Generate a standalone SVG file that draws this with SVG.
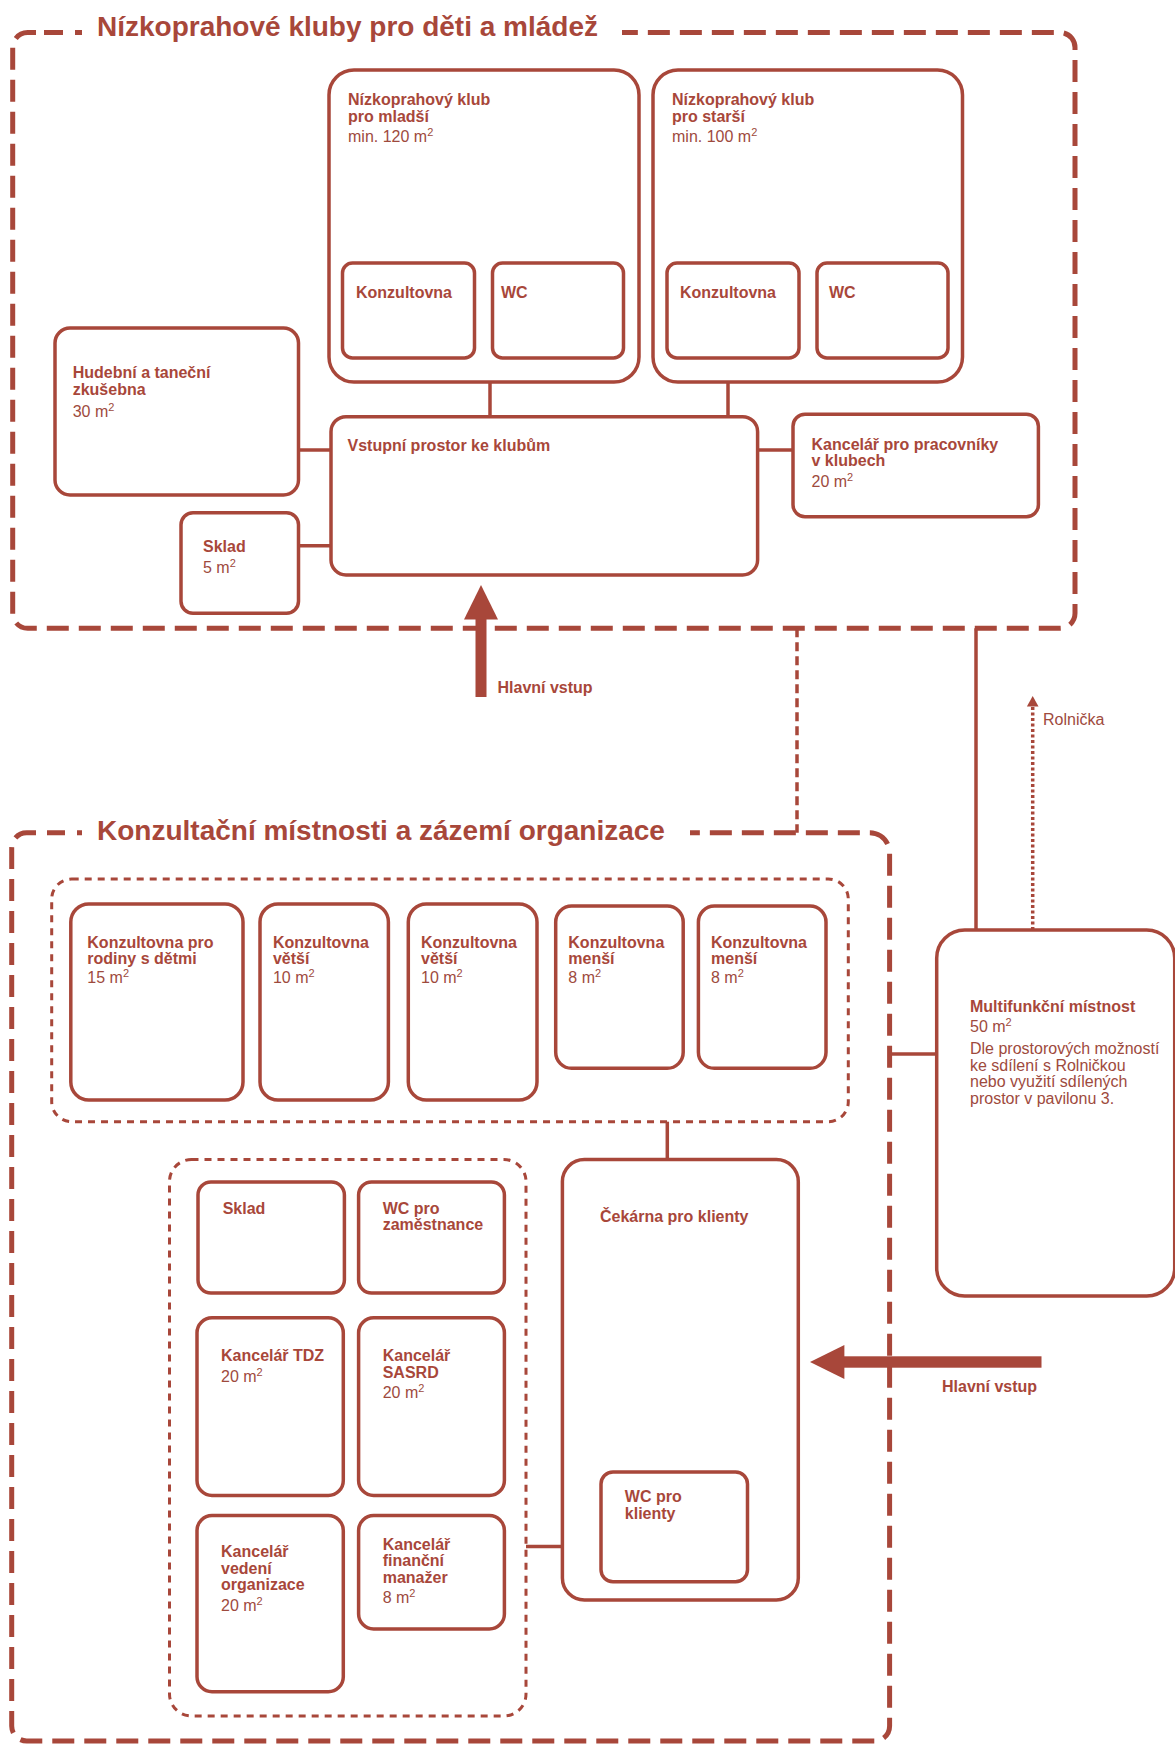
<svg xmlns="http://www.w3.org/2000/svg" width="1175" height="1744" viewBox="0 0 1175 1744">
<defs>
<style>
.box{fill:none;stroke:#a8473a;stroke-width:3.5}
.grp{fill:none;stroke:#a8473a;stroke-width:5;stroke-dasharray:22 10}
.dot{fill:none;stroke:#a8473a;stroke-width:3;stroke-dasharray:7 6}
.ln{fill:none;stroke:#a8473a;stroke-width:3.5}
.t{font-family:"Liberation Sans",Arial,sans-serif;font-size:16px;font-weight:bold;fill:#a8473a}
.a{font-family:"Liberation Sans",Arial,sans-serif;font-size:16px;font-weight:normal;fill:#9e4a3d}
.sup{font-size:11px}
.title{font-family:"Liberation Sans",Arial,sans-serif;font-size:28px;font-weight:bold;fill:#a8473a}
.fill{fill:#a8473a}
</style>
</defs>
<rect width="1175" height="1744" fill="#ffffff"/>

<!-- group frames -->
<g id="group-kluby">
<path class="grp" d="M36 32.5 H27.7 A15 15 0 0 0 12.7 47.5 V613.3 A15 15 0 0 0 27.7 628.3 H1060 A15 15 0 0 0 1075 613.3 V47.5 A15 15 0 0 0 1060 32.5 H622"/>
<path class="grp" style="stroke-dasharray:none" d="M44 32.5 H63 M75 32.5 H82"/>
<text class="title" x="97" y="36">Nízkoprahové kluby pro děti a mládež</text>
</g>
<g id="group-konzultacni">
<path class="grp" d="M36 832.7 H26.7 A15 15 0 0 0 11.7 847.7 V1726 A15 15 0 0 0 26.7 1741 H874.6 A15 15 0 0 0 889.6 1726 V852.7 A20 20 0 0 0 869.6 832.7 H690"/>
<path class="grp" style="stroke-dasharray:none" d="M47 832.7 H65 M77 832.7 H82"/>
<text class="title" x="97" y="840">Konzultační místnosti a zázemí organizace</text>
</g>
<g id="group-konzultovny">
<rect class="dot" x="51.7" y="879" width="796.6" height="242.7" rx="20"/>
</g>
<g id="group-kancelare">
<rect class="dot" x="169.5" y="1159.5" width="356.5" height="556.5" rx="22"/>
</g>

<!-- connectors -->
<g id="connectors">
<line class="ln" x1="490" y1="382" x2="490" y2="416.7"/>
<line class="ln" x1="728" y1="382" x2="728" y2="416.7"/>
<line class="ln" x1="298.5" y1="450" x2="331" y2="450"/>
<line class="ln" x1="298.5" y1="545.7" x2="331" y2="545.7"/>
<line class="ln" x1="757.6" y1="450" x2="793" y2="450"/>
<line class="ln" x1="797" y1="628.3" x2="797" y2="832.7" style="stroke-dasharray:9 5"/>
<line class="ln" x1="976" y1="628.3" x2="976" y2="930"/>
<line class="ln" x1="1032.7" y1="930" x2="1032.7" y2="705" style="stroke-width:3.5;stroke-dasharray:3 2.5"/>
<polygon class="fill" points="1032.7,696 1038.5,706.5 1026.9,706.5"/>
<line class="ln" x1="889.6" y1="1054" x2="936.7" y2="1054"/>
<line class="ln" x1="667.3" y1="1121.7" x2="667.3" y2="1159.5"/>
<line class="ln" x1="526" y1="1546.6" x2="562.4" y2="1546.6"/>
</g>

<!-- entrance arrows -->
<g id="vstup-kluby">
<rect class="fill" x="475.5" y="615" width="11" height="82"/>
<polygon class="fill" points="481,585 498,619.5 464,619.5"/>
<text class="t" x="497.5" y="693">Hlavní vstup</text>
</g>
<g id="vstup-organizace">
<rect class="fill" x="842" y="1356.3" width="199.5" height="11.4"/>
<polygon class="fill" points="810,1362 844.4,1345 844.4,1379"/>
<text class="t" x="942" y="1392.4">Hlavní vstup</text>
</g>
<g id="rolnicka">
<text class="a" x="1043" y="725">Rolnička</text>
</g>

<!-- top nodes -->
<g id="klub-mladsi">
<rect class="box" x="329" y="70" width="310" height="312" rx="25"/>
<text class="t" x="348" y="105">Nízkoprahový klub</text>
<text class="t" x="348" y="121.5">pro mladší</text>
<text class="a" x="348" y="141.7">min. 120 m<tspan class="sup" dy="-6">2</tspan></text>
</g>
<g id="mladsi-konzultovna">
<rect class="box" x="342.5" y="263" width="132" height="95" rx="10"/>
<text class="t" x="356" y="298">Konzultovna</text>
</g>
<g id="mladsi-wc">
<rect class="box" x="492.5" y="263" width="131" height="95" rx="10"/>
<text class="t" x="501" y="298">WC</text>
</g>
<g id="klub-starsi">
<rect class="box" x="653" y="70" width="309.5" height="312" rx="25"/>
<text class="t" x="672" y="105">Nízkoprahový klub</text>
<text class="t" x="672" y="121.5">pro starší</text>
<text class="a" x="672" y="141.7">min. 100 m<tspan class="sup" dy="-6">2</tspan></text>
</g>
<g id="starsi-konzultovna">
<rect class="box" x="667" y="263" width="132" height="95" rx="10"/>
<text class="t" x="680" y="298">Konzultovna</text>
</g>
<g id="starsi-wc">
<rect class="box" x="817" y="263" width="131" height="95" rx="10"/>
<text class="t" x="829" y="298">WC</text>
</g>
<g id="hudebni">
<rect class="box" x="55" y="328" width="243.5" height="167" rx="15"/>
<text class="t" x="72.7" y="378">Hudební a taneční</text>
<text class="t" x="72.7" y="394.5">zkušebna</text>
<text class="a" x="72.7" y="416.7">30 m<tspan class="sup" dy="-6">2</tspan></text>
</g>
<g id="vstupni-prostor">
<rect class="box" x="331" y="416.7" width="426.6" height="158.3" rx="15"/>
<text class="t" x="347.5" y="451">Vstupní prostor ke klubům</text>
</g>
<g id="sklad-kluby">
<rect class="box" x="181" y="512.7" width="117.5" height="100.6" rx="12"/>
<text class="t" x="203" y="552">Sklad</text>
<text class="a" x="203" y="573">5 m<tspan class="sup" dy="-6">2</tspan></text>
</g>
<g id="kancelar-kluby">
<rect class="box" x="793" y="414.3" width="245.4" height="102.4" rx="12"/>
<text class="t" x="811.5" y="450">Kancelář pro pracovníky</text>
<text class="t" x="811.5" y="466">v klubech</text>
<text class="a" x="811.5" y="486.7">20 m<tspan class="sup" dy="-6">2</tspan></text>
</g>

<!-- lower nodes -->
<g id="konz-rodiny">
<rect class="box" x="70.8" y="904" width="172.2" height="196" rx="18"/>
<text class="t" x="87.3" y="948.3">Konzultovna pro</text>
<text class="t" x="87.3" y="964.3">rodiny s dětmi</text>
<text class="a" x="87.3" y="983.3">15 m<tspan class="sup" dy="-6">2</tspan></text>
</g>
<g id="konz-vetsi-1">
<rect class="box" x="260" y="904" width="128.4" height="196" rx="18"/>
<text class="t" x="272.9" y="948.3">Konzultovna</text>
<text class="t" x="272.9" y="964.3">větší</text>
<text class="a" x="272.9" y="983.3">10 m<tspan class="sup" dy="-6">2</tspan></text>
</g>
<g id="konz-vetsi-2">
<rect class="box" x="408.3" y="904" width="128.7" height="196" rx="18"/>
<text class="t" x="421" y="948.3">Konzultovna</text>
<text class="t" x="421" y="964.3">větší</text>
<text class="a" x="421" y="983.3">10 m<tspan class="sup" dy="-6">2</tspan></text>
</g>
<g id="konz-mensi-1">
<rect class="box" x="555.7" y="906" width="127.5" height="162.3" rx="16"/>
<text class="t" x="568.3" y="948.3">Konzultovna</text>
<text class="t" x="568.3" y="964.3">menší</text>
<text class="a" x="568.3" y="983.3">8 m<tspan class="sup" dy="-6">2</tspan></text>
</g>
<g id="konz-mensi-2">
<rect class="box" x="698.4" y="906" width="127.6" height="162.3" rx="16"/>
<text class="t" x="711" y="948.3">Konzultovna</text>
<text class="t" x="711" y="964.3">menší</text>
<text class="a" x="711" y="983.3">8 m<tspan class="sup" dy="-6">2</tspan></text>
</g>
<g id="multifunkcni">
<rect class="box" x="936.7" y="930" width="238" height="366" rx="28"/>
<text class="t" x="970" y="1011.7">Multifunkční místnost</text>
<text class="a" x="970" y="1031.7">50 m<tspan class="sup" dy="-6">2</tspan></text>
<text class="a" x="970" y="1054">Dle prostorových možností</text>
<text class="a" x="970" y="1070.5">ke sdílení s Rolničkou</text>
<text class="a" x="970" y="1087">nebo využití sdílených</text>
<text class="a" x="970" y="1103.5">prostor v pavilonu 3.</text>
</g>
<g id="cekarna">
<rect class="box" x="562.4" y="1159.5" width="235.9" height="440.5" rx="22"/>
<text class="t" x="600" y="1222">Čekárna pro klienty</text>
</g>
<g id="wc-klienti">
<rect class="box" x="601" y="1472" width="146.5" height="109.8" rx="12"/>
<text class="t" x="624.8" y="1502.3">WC pro</text>
<text class="t" x="624.8" y="1519">klienty</text>
</g>
<g id="sklad-org">
<rect class="box" x="198" y="1182" width="146.4" height="111" rx="13"/>
<text class="t" x="222.7" y="1213.6">Sklad</text>
</g>
<g id="wc-zamestnanci">
<rect class="box" x="358.6" y="1182" width="145.8" height="111" rx="13"/>
<text class="t" x="382.7" y="1213.6">WC pro</text>
<text class="t" x="382.7" y="1230">zaměstnance</text>
</g>
<g id="kancelar-tdz">
<rect class="box" x="197" y="1317.8" width="146.3" height="177.7" rx="15"/>
<text class="t" x="221" y="1361">Kancelář TDZ</text>
<text class="a" x="221" y="1381.8">20 m<tspan class="sup" dy="-6">2</tspan></text>
</g>
<g id="kancelar-sasrd">
<rect class="box" x="358.6" y="1317.8" width="145.8" height="177.7" rx="15"/>
<text class="t" x="382.7" y="1361">Kancelář</text>
<text class="t" x="382.7" y="1377.5">SASRD</text>
<text class="a" x="382.7" y="1398">20 m<tspan class="sup" dy="-6">2</tspan></text>
</g>
<g id="kancelar-vedeni">
<rect class="box" x="197" y="1515.5" width="146.3" height="176.2" rx="15"/>
<text class="t" x="221" y="1557">Kancelář</text>
<text class="t" x="221" y="1573.5">vedení</text>
<text class="t" x="221" y="1590">organizace</text>
<text class="a" x="221" y="1611">20 m<tspan class="sup" dy="-6">2</tspan></text>
</g>
<g id="kancelar-financni">
<rect class="box" x="358.6" y="1515.5" width="145.8" height="113.5" rx="15"/>
<text class="t" x="382.7" y="1549.6">Kancelář</text>
<text class="t" x="382.7" y="1566">finanční</text>
<text class="t" x="382.7" y="1582.5">manažer</text>
<text class="a" x="382.7" y="1603.4">8 m<tspan class="sup" dy="-6">2</tspan></text>
</g>
</svg>
